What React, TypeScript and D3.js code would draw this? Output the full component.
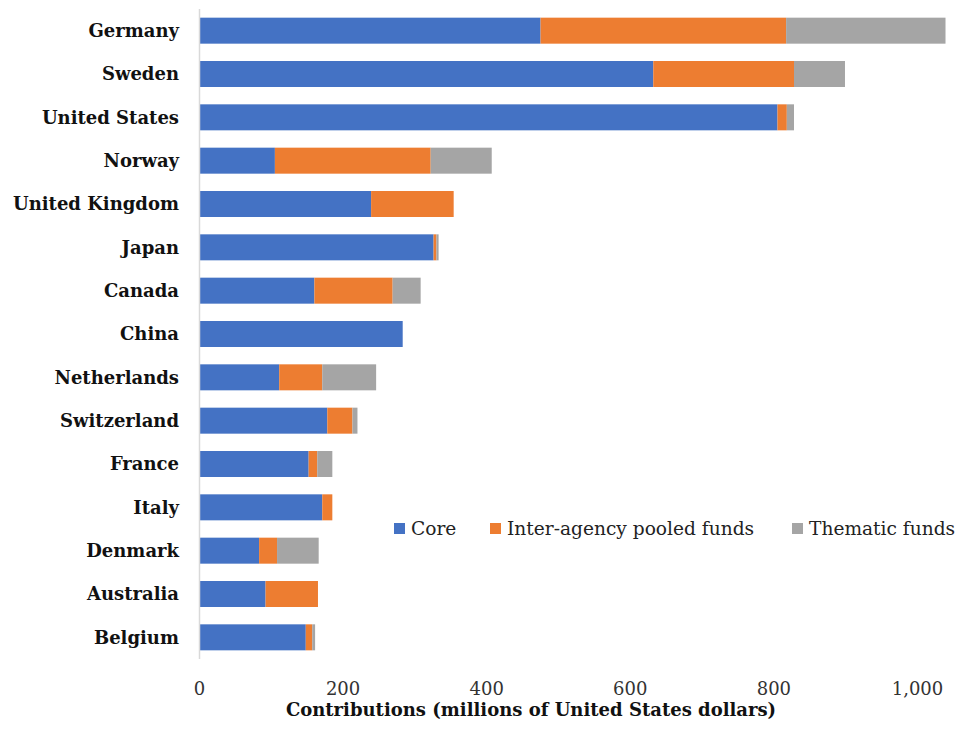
import React from "react";
import * as d3 from "d3";

// Contributions by donor, millions of United States dollars
const countries = [
  "Germany",
  "Sweden",
  "United States",
  "Norway",
  "United Kingdom",
  "Japan",
  "Canada",
  "China",
  "Netherlands",
  "Switzerland",
  "France",
  "Italy",
  "Denmark",
  "Australia",
  "Belgium",
];
const core = [475, 632, 805, 105, 239, 326, 160, 283, 111, 178, 152, 171, 83, 92, 148];
const pooled = [342, 196, 13, 217, 115, 4, 109, 0, 60, 35, 12, 14, 25, 73, 9];
const thematic = [222, 71, 10, 85, 0, 3, 39, 0, 75, 7, 21, 0, 58, 0, 4];

const seriesNames = ["Core", "Inter-agency pooled funds", "Thematic funds"];
const seriesColors = ["#4472C4", "#ED7D31", "#A5A5A5"];
const xTicks = [0, 200, 400, 600, 800, 1000];
const xTitle = "Contributions (millions of United States dollars)";

const W = 956;
const H = 730;
const FONT = "'DejaVu Serif', 'Liberation Serif', serif";

export default function App() {
  const rows = countries.map((c, i) => ({
    country: c,
    Core: core[i],
    "Inter-agency pooled funds": pooled[i],
    "Thematic funds": thematic[i],
  }));

  const stack = d3.stack<any>().keys(seriesNames)(rows);

  const x = d3.scaleLinear().domain([0, 1000]).range([199.5, 917.5]);
  const y = d3
    .scaleBand<string>()
    .domain(countries)
    .range([9, 659])
    .paddingInner(0.4)
    .paddingOuter(0.2);

  const fmt = d3.format(",");
  const legendStarts = [394, 490, 792];

  return (
    <svg
      width={W}
      height={H}
      style={{ position: "absolute", left: 0, top: 0, background: "#fff" }}
      fontFamily={FONT}
    >
      {stack.map((s, si) => (
        <g key={s.key} fill={seriesColors[si]}>
          {s.map((d, i) =>
            d[1] - d[0] > 0 ? (
              <rect
                key={i}
                x={x(d[0])}
                y={y(countries[i])}
                width={x(d[1]) - x(d[0])}
                height={y.bandwidth()}
              />
            ) : null
          )}
        </g>
      ))}

      {/* category axis line */}
      <line x1={x(0)} x2={x(0)} y1={9} y2={659} stroke="#d9d9d9" strokeWidth={1.5} />

      {/* category labels */}
      {countries.map((c) => (
        <text
          key={c}
          x={179}
          y={(y(c) as number) + y.bandwidth() / 2}
          dy="0.36em"
          textAnchor="end"
          fontWeight="bold"
          fontSize={18}
          fill="#111"
        >
          {c}
        </text>
      ))}

      {/* value tick labels */}
      {xTicks.map((t) => (
        <text key={t} x={x(t)} y={695} textAnchor="middle" fontSize={18} fill="#333">
          {fmt(t)}
        </text>
      ))}

      <text x={531} y={716} textAnchor="middle" fontWeight="bold" fontSize={18} fill="#111">
        {xTitle}
      </text>

      {/* legend */}
      {seriesNames.map((n, i) => (
        <g key={n} transform={`translate(${legendStarts[i]},0)`}>
          <rect x={0} y={523} width={11} height={11} fill={seriesColors[i]} />
          <text x={17} y={535} fontSize={18.6} fill="#222">
            {n}
          </text>
        </g>
      ))}
    </svg>
  );
}
